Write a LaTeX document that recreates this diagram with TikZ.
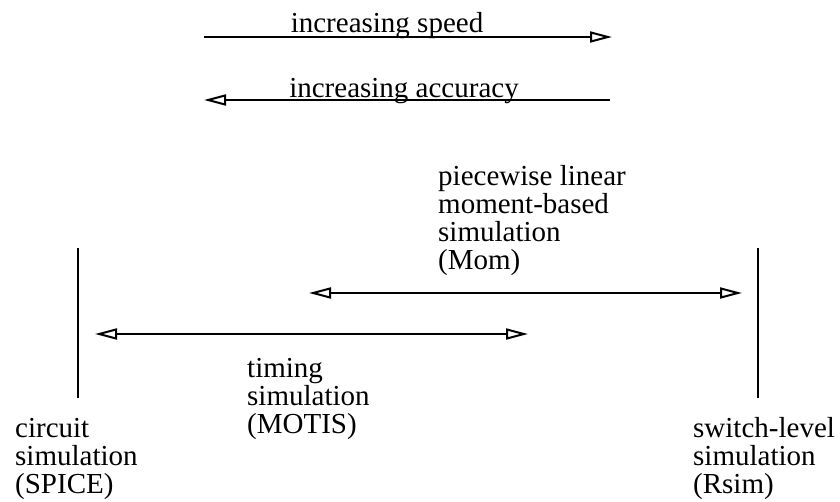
\documentclass[tikz,border=0pt]{standalone}
\usepackage{fontspec}
\setmainfont{Liberation Serif}
\usetikzlibrary{arrows.meta, positioning}
\definecolor{inkcolor}{HTML}{000000}

\begin{document}
\begin{tikzpicture}[x=1pt, y=-1pt,
  >={Triangle[open, length=22pt, width=11pt]},
  rule/.style={draw=inkcolor, line width=2pt},
  caption/.style={font=\fontsize{29}{28}\selectfont, color=inkcolor,
    inner sep=0pt, align=left, anchor=base west}]
  \useasboundingbox (0,0) rectangle (840,502);
  % trend arrows at the top
  \coordinate (spdL) at (204,37);
  \coordinate (spdR) at (612,37);
  \coordinate (accL) at (204,100);
  \coordinate (accR) at (610,100);
  \node[caption, anchor=base] (speed) at (387,33) {increasing speed};
  \node[caption, anchor=base] (accuracy) at (404,98) {increasing accuracy};
  \draw[rule, ->] (spdL) -- (spdR);
  \draw[rule, ->] (accR) -- (accL);
  % the two ends of the scale
  \coordinate (circT) at (78,248);
  \coordinate (circB) at (78,398);
  \coordinate (swT) at (758,248);
  \coordinate (swB) at (758,398);
  \draw[rule] (circT) -- (circB);
  \draw[rule] (swT) -- (swB);
  % anchored at the baseline of the last line
  \node[caption] (spice) at (15,493) {circuit\\simulation\\(SPICE)};
  \node[caption] (rsim) at (693,493) {switch-level\\simulation\\(Rsim)};
  % ranges in between
  \coordinate (momL) at (309,293);
  \coordinate (momR) at (742,293);
  \coordinate (motL) at (95,334);
  \coordinate (motR) at (528,334);
  \draw[rule, <->] (momL) -- (momR);
  \draw[rule, <->] (motL) -- (motR);
  \node[caption] (mom) at (438,270)
    {piecewise linear\\moment-based\\simulation\\(Mom)};
  \node[caption] (motis) at (247,433) {timing\\simulation\\(MOTIS)};
\end{tikzpicture}
\end{document}
